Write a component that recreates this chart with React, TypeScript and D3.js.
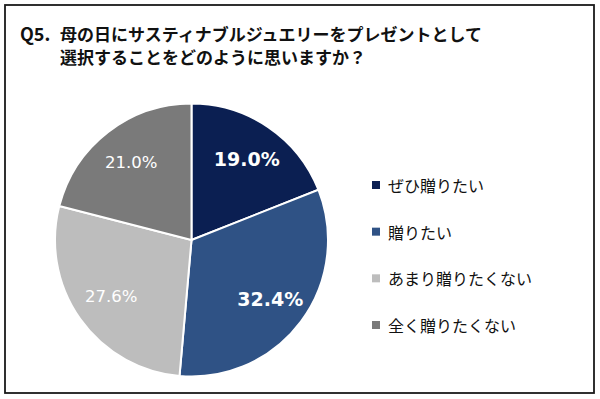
import React from "react";
import * as d3 from "d3";

const categories = ["ぜひ贈りたい", "贈りたい", "あまり贈りたくない", "全く贈りたくない"];
const values = [19.0, 32.4, 27.6, 21.0];
const colors = ["#0b1f52", "#2f5285", "#bdbdbd", "#7a7a7a"];
const labelBold = [true, true, false, false];
const titleLines = ["母の日にサスティナブルジュエリーをプレゼントとして", "選択することをどのように思いますか？"];

export default function App() {
  const W = 600, H = 399;
  const cx = 191.5, cy = 240, r = 136.5;
  const pie = d3.pie<number>().sort(null).value((d) => d);
  const arcs = pie(values);
  const arc = d3.arc<d3.PieArcDatum<number>>().innerRadius(0).outerRadius(r);
  const labelArc = d3.arc<d3.PieArcDatum<number>>().innerRadius(r * 0.72).outerRadius(r * 0.72);
  const legendY = d3.scalePoint<string>().domain(categories).range([185, 325]);
  const jp = "'Noto Sans CJK JP', 'Noto Sans', sans-serif";
  const num = "'DejaVu Sans', Verdana, sans-serif";
  return (
    <svg width={W} height={H} style={{ position: "absolute", left: 0, top: 0, background: "#fff" }}>
      <rect x={5} y={5} width={589} height={388} fill="#fff" stroke="#1a1a1a" strokeWidth={1.8} />
      <text x={20} y={41} fontFamily={jp} fontWeight={700} fontSize={18} fill="#111">Q5.</text>
      {titleLines.map((t, i) => (
        <text key={i} x={60} y={41 + i * 23} fontFamily={jp} fontWeight={700} fontSize={17} fill="#111">{t}</text>
      ))}
      <g transform={`translate(${cx},${cy})`}>
        {arcs.map((a, i) => (
          <path key={i} d={arc(a) || ""} fill={colors[i]} stroke="#fff" strokeWidth={2} />
        ))}
        {arcs.map((a, i) => {
          const [x, y] = labelArc.centroid(a);
          return (
            <text key={"l" + i} x={x} y={y} textAnchor="middle" dominantBaseline="central"
              fontFamily={num} fontWeight={labelBold[i] ? 700 : 400} fontSize={labelBold[i] ? 19 : 16.5} fill="#fff">
              {values[i].toFixed(1)}%
            </text>
          );
        })}
      </g>
      {categories.map((c, i) => (
        <g key={c} transform={`translate(0,${legendY(c)})`}>
          <rect x={372} y={-4} width={8} height={8} fill={colors[i]} />
          <text x={388} y={0} dominantBaseline="central" fontFamily={jp} fontSize={16} fill="#111">{c}</text>
        </g>
      ))}
    </svg>
  );
}
